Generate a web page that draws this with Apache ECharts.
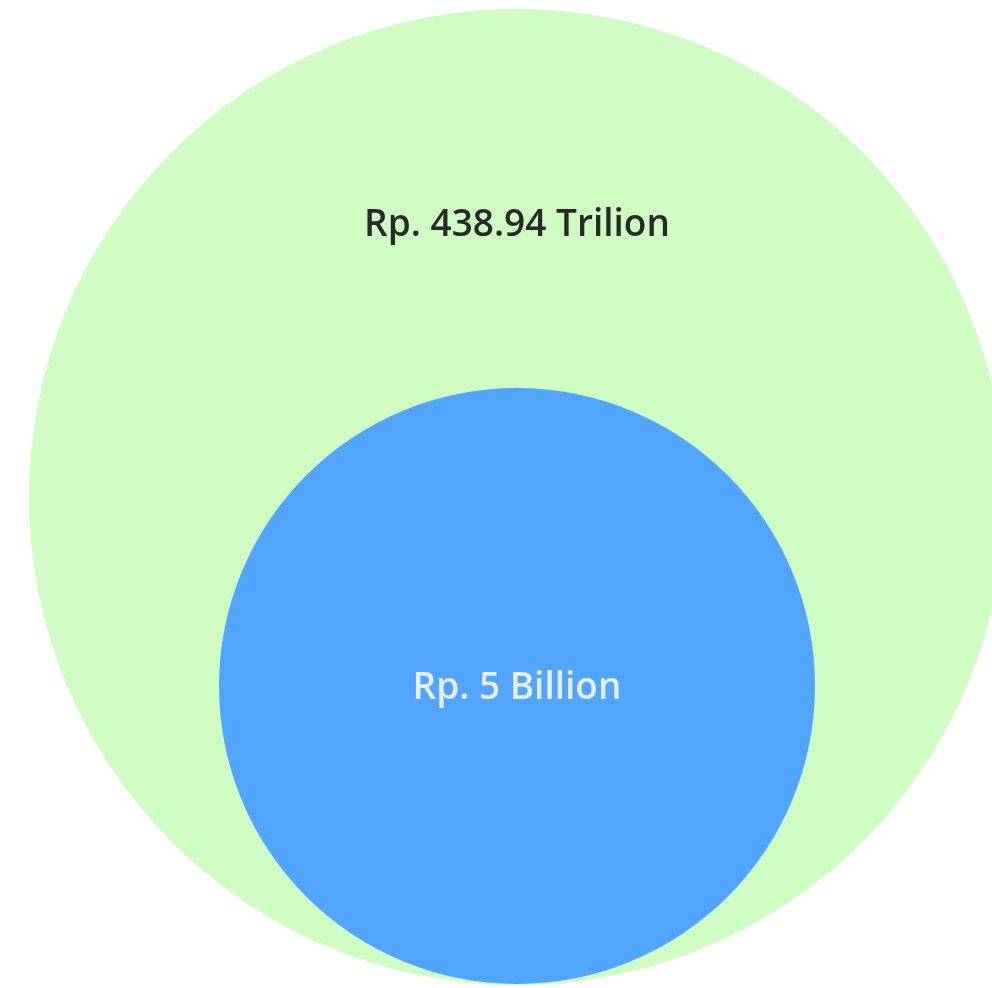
<!DOCTYPE html>
<html>
<head>
<meta charset="utf-8">
<script src="https://cdn.jsdelivr.net/npm/echarts@6/dist/echarts.min.js"></script>
<style>
html,body{margin:0;padding:0;background:#fff;}
#chart{width:992px;height:988px;}
</style>
</head>
<body>
<div id="chart"></div>
<script>
// Circle data (in chart units, x: 0..992, y: 0..988 top-down)
const labels = ['Rp. 438.94 Trilion', 'Rp. 5 Billion'];
const centerX = [517, 517];
const centerY = [497, 686];
const radius = [488, 298];
const labelY = [225, 688];
const colors = ['#CFFCC3', '#52A5FF'];
const textColors = ['#262a26', '#e6eefa'];

const chart = echarts.init(document.getElementById('chart'));
const data = labels.map((l, i) => [centerX[i], centerY[i], radius[i], labelY[i], i]);

chart.setOption({
  animation: false,
  grid: {left: 0, right: 0, top: 0, bottom: 0},
  xAxis: {type: 'value', min: 0, max: 992, show: false},
  yAxis: {type: 'value', min: 0, max: 988, inverse: true, show: false},
  series: [{
    type: 'custom',
    clip: false,
    data: data,
    renderItem: function (params, api) {
      const i = api.value(4);
      const c = api.coord([api.value(0), api.value(1)]);
      const r = api.size([api.value(2), 0])[0];
      const ly = api.coord([api.value(0), api.value(3)])[1];
      return {
        type: 'group',
        children: [
          {type: 'circle', shape: {cx: c[0], cy: c[1], r: r}, style: {fill: colors[i]}},
          {type: 'text', x: c[0], y: ly, style: {
            text: labels[i], fill: textColors[i], align: 'center', verticalAlign: 'middle',
            font: '600 37px "Open Sans", sans-serif'
          }}
        ]
      };
    }
  }]
});
</script>
</body>
</html>
